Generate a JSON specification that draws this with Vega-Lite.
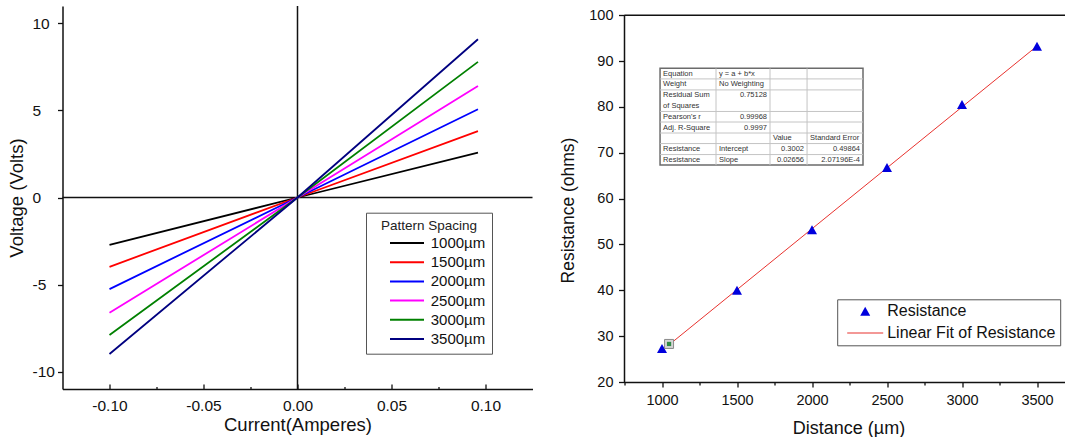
{
  "$schema": "https://vega.github.io/schema/vega-lite/v6.json",
  "background": "#ffffff",
  "padding": {"left": 6.5, "top": 5, "right": 0, "bottom": 0},
  "spacing": 26,
  "resolve": {"scale": {"color": "independent", "shape": "independent"}, "legend": {"color": "independent", "shape": "independent"}},
  "config": {
    "font": "Liberation Sans",
    "view": {"stroke": null},
    "axis": {
      "grid": false,
      "labelFont": "Liberation Sans",
      "titleFont": "Liberation Sans",
      "titleFontWeight": "normal",
      "labelColor": "#111111",
      "titleColor": "#111111",
      "domainColor": "#111111",
      "tickColor": "#111111",
      "domainWidth": 1.5,
      "tickWidth": 1.3,
      "labelOverlap": false,
      "labelBound": false,
      "labelFlush": false
    },
    "legend": {"labelFont": "Liberation Sans", "titleFont": "Liberation Sans", "labelLimit": 400}
  },
  "datasets": {
    "one": [{}],
    "iv": [
      {"spacing": "1000µm", "current": -0.1, "voltage": -2.72},
      {"spacing": "1000µm", "current": 0, "voltage": 0},
      {"spacing": "1000µm", "current": 0.096, "voltage": 2.58},
      {"spacing": "1500µm", "current": -0.1, "voltage": -3.98},
      {"spacing": "1500µm", "current": 0, "voltage": 0},
      {"spacing": "1500µm", "current": 0.096, "voltage": 3.81},
      {"spacing": "2000µm", "current": -0.1, "voltage": -5.26},
      {"spacing": "2000µm", "current": 0, "voltage": 0},
      {"spacing": "2000µm", "current": 0.096, "voltage": 5.07},
      {"spacing": "2500µm", "current": -0.1, "voltage": -6.62},
      {"spacing": "2500µm", "current": 0, "voltage": 0},
      {"spacing": "2500µm", "current": 0.096, "voltage": 6.41},
      {"spacing": "3000µm", "current": -0.1, "voltage": -7.9},
      {"spacing": "3000µm", "current": 0, "voltage": 0},
      {"spacing": "3000µm", "current": 0.096, "voltage": 7.79},
      {"spacing": "3500µm", "current": -0.1, "voltage": -8.99},
      {"spacing": "3500µm", "current": 0, "voltage": 0},
      {"spacing": "3500µm", "current": 0.096, "voltage": 9.09}
    ],
    "resistance": [
      {"distance": 1000, "resistance": 27.3, "series": "Resistance"},
      {"distance": 1500, "resistance": 40.0, "series": "Resistance"},
      {"distance": 2000, "resistance": 53.2, "series": "Resistance"},
      {"distance": 2500, "resistance": 66.8, "series": "Resistance"},
      {"distance": 3000, "resistance": 80.5, "series": "Resistance"},
      {"distance": 3500, "resistance": 93.2, "series": "Resistance"}
    ],
    "fit": [
      {"distance": 1000, "fit": 26.86},
      {"distance": 3500, "fit": 93.26}
    ],
    "lockIcon": [{"distance": 1047, "resistance": 28.3}],
    "tableRows": [
      {"y": 86.1}, {"y": 83.7}, {"y": 79.0}, {"y": 76.7}, {"y": 74.3}, {"y": 72.0}, {"y": 69.6}
    ],
    "tableCols": [
      {"x": 1360}, {"x": 1720}, {"x": 1967}
    ],
    "tableTextLeft": [
      {"x": 1007, "y": 87.25, "label": "Equation"},
      {"x": 1380, "y": 87.25, "label": "y = a + b*x"},
      {"x": 1007, "y": 84.9, "label": "Weight"},
      {"x": 1380, "y": 84.9, "label": "No Weighting"},
      {"x": 1007, "y": 82.5, "label": "Residual Sum"},
      {"x": 1007, "y": 80.3, "label": "of Squares"},
      {"x": 1007, "y": 77.85, "label": "Pearson's r"},
      {"x": 1007, "y": 75.5, "label": "Adj. R-Square"},
      {"x": 1740, "y": 73.15, "label": "Value"},
      {"x": 1987, "y": 73.15, "label": "Standard Error"},
      {"x": 1007, "y": 70.8, "label": "Resistance"},
      {"x": 1380, "y": 70.8, "label": "Intercept"},
      {"x": 1007, "y": 68.45, "label": "Resistance"},
      {"x": 1380, "y": 68.45, "label": "Slope"}
    ],
    "tableTextRight": [
      {"x": 1700, "y": 82.5, "label": "0.75128"},
      {"x": 1700, "y": 77.85, "label": "0.99968"},
      {"x": 1700, "y": 75.5, "label": "0.9997"},
      {"x": 1947, "y": 70.8, "label": "0.3002"},
      {"x": 2320, "y": 70.8, "label": "0.49864"},
      {"x": 1947, "y": 68.45, "label": "0.02656"},
      {"x": 2320, "y": 68.45, "label": "2.07196E-4"}
    ]
  },
  "hconcat": [
    {
      "width": 470,
      "height": 383,
      "layer": [
        {
          "data": {"name": "one"},
          "mark": {"type": "rule", "color": "#111111", "strokeWidth": 1.5},
          "encoding": {
            "y": {"datum": 0, "type": "quantitative", "scale": {"domain": [-11, 11], "nice": false, "zero": false}}
          }
        },
        {
          "data": {"name": "one"},
          "mark": {"type": "rule", "color": "#111111", "strokeWidth": 1.5},
          "encoding": {
            "x": {"datum": 0, "type": "quantitative", "scale": {"domain": [-0.125, 0.125], "nice": false, "zero": false}}
          }
        },
        {
          "data": {"name": "iv"},
          "mark": {"type": "line", "strokeWidth": 1.8},
          "encoding": {
            "x": {
              "field": "current",
              "type": "quantitative",
              "scale": {"domain": [-0.125, 0.125], "nice": false, "zero": false},
              "axis": {
                "title": "Current(Amperes)",
                "values": [-0.1, -0.075, -0.05, -0.025, 0, 0.025, 0.05, 0.075, 0.1],
                "labelExpr": "indexof([-0.1, -0.05, 0, 0.05, 0.1], datum.value) >= 0 ? replace(format(datum.value, '.2f'), '\u2212', '-') : ''",
                "tickSize": {"condition": {"test": "indexof([-0.1, -0.05, 0, 0.05, 0.1], datum.value) >= 0", "value": -5}, "value": -2.5},
                "labelFontSize": 15.5,
                "labelPadding": 14.2,
                "titleFontSize": 18.5,
                "titlePadding": -1
              }
            },
            "y": {
              "field": "voltage",
              "type": "quantitative",
              "scale": {"domain": [-11, 11], "nice": false, "zero": false},
              "axis": {
                "title": "Voltage (Volts)",
                "values": [-10, -5, 0, 5, 10],
                "labelExpr": "replace(format(datum.value, 'd'), '\u2212', '-')",
                "labelAlign": "left",
                "tickSize": 5,
                "labelPadding": 25.5,
                "labelFontSize": 15.5,
                "titleFontSize": 18.5,
                "titlePadding": 6
              }
            },
            "color": {
              "field": "spacing",
              "type": "nominal",
              "scale": {
                "domain": ["1000µm", "1500µm", "2000µm", "2500µm", "3000µm", "3500µm"],
                "range": ["#000000", "#ff0000", "#0000ff", "#ff00ff", "#008000", "#000080"]
              },
              "legend": {
                "title": "Pattern Spacing",
                "orient": "none",
                "legendX": 303.5,
                "legendY": 206.7,
                "strokeColor": "#555555",
                "fillColor": "#ffffff",
                "padding": 6,
                "symbolType": "M-3.4,0H3.4",
                "symbolSize": 100,
                "symbolStrokeWidth": 2,
                "symbolOffset": 27.5,
                "labelOffset": 16.2,
                "labelFontSize": 15,
                "labelColor": "#111111",
                "titleFontSize": 13.5,
                "titleFontWeight": "normal",
                "titleColor": "#222222",
                "titleAnchor": "middle",
                "titlePadding": 3.3,
                "rowPadding": 3.2
              }
            }
          }
        }
      ]
    },
    {
      "width": 441,
      "height": 376,
      "layer": [
        {
          "data": {"name": "one"},
          "mark": {"type": "rule", "color": "#111111", "strokeWidth": 1.5},
          "encoding": {
            "y": {"datum": 100, "type": "quantitative", "scale": {"domain": [20, 102], "nice": false, "zero": false}}
          }
        },
        {
          "data": {"name": "one"},
          "mark": {"type": "rule", "color": "#111111", "strokeWidth": 1.5},
          "encoding": {
            "x": {"datum": 750, "type": "quantitative", "scale": {"domain": [750, 3690], "nice": false, "zero": false}},
            "y": {"datum": 20, "type": "quantitative", "scale": {"domain": [20, 102], "nice": false, "zero": false}},
            "y2": {"datum": 100}
          }
        },
        {
          "data": {"name": "one"},
          "mark": {"type": "rect", "fill": "#ffffff", "stroke": "#6b6b6b", "strokeWidth": 1.5},
          "encoding": {
            "x": {"datum": 987, "type": "quantitative", "scale": {"domain": [750, 3690], "nice": false, "zero": false}},
            "x2": {"datum": 2340},
            "y": {"datum": 67.3, "type": "quantitative", "scale": {"domain": [20, 102], "nice": false, "zero": false}},
            "y2": {"datum": 88.4}
          }
        },
        {
          "data": {"name": "tableRows"},
          "mark": {"type": "rule", "color": "#c4c4c4", "strokeWidth": 1},
          "encoding": {
            "y": {"field": "y", "type": "quantitative", "scale": {"domain": [20, 102], "nice": false, "zero": false}},
            "x": {"datum": 987, "type": "quantitative", "scale": {"domain": [750, 3690], "nice": false, "zero": false}},
            "x2": {"datum": 2340}
          }
        },
        {
          "data": {"name": "tableCols"},
          "mark": {"type": "rule", "color": "#c4c4c4", "strokeWidth": 1},
          "encoding": {
            "x": {"field": "x", "type": "quantitative", "scale": {"domain": [750, 3690], "nice": false, "zero": false}},
            "y": {"datum": 67.3, "type": "quantitative", "scale": {"domain": [20, 102], "nice": false, "zero": false}},
            "y2": {"datum": 88.4}
          }
        },
        {
          "data": {"name": "tableTextLeft"},
          "mark": {"type": "text", "align": "left", "baseline": "middle", "fontSize": 7.5, "color": "#333333", "font": "Liberation Sans"},
          "encoding": {
            "x": {"field": "x", "type": "quantitative", "scale": {"domain": [750, 3690], "nice": false, "zero": false}},
            "y": {"field": "y", "type": "quantitative", "scale": {"domain": [20, 102], "nice": false, "zero": false}},
            "text": {"field": "label"}
          }
        },
        {
          "data": {"name": "tableTextRight"},
          "mark": {"type": "text", "align": "right", "baseline": "middle", "fontSize": 7.5, "color": "#333333", "font": "Liberation Sans"},
          "encoding": {
            "x": {"field": "x", "type": "quantitative", "scale": {"domain": [750, 3690], "nice": false, "zero": false}},
            "y": {"field": "y", "type": "quantitative", "scale": {"domain": [20, 102], "nice": false, "zero": false}},
            "text": {"field": "label"}
          }
        },
        {
          "data": {"name": "fit"},
          "mark": {"type": "line", "color": "#e8322e", "strokeWidth": 1},
          "encoding": {
            "x": {"field": "distance", "type": "quantitative", "scale": {"domain": [750, 3690], "nice": false, "zero": false}},
            "y": {"field": "fit", "type": "quantitative", "scale": {"domain": [20, 102], "nice": false, "zero": false}}
          }
        },
        {
          "data": {"name": "resistance"},
          "mark": {"type": "point", "filled": true, "size": 100, "opacity": 1},
          "encoding": {
            "x": {
              "field": "distance",
              "type": "quantitative",
              "scale": {"domain": [750, 3690], "nice": false, "zero": false},
              "axis": {
                "title": "Distance (µm)",
                "values": [750, 1000, 1250, 1500, 1750, 2000, 2250, 2500, 2750, 3000, 3250, 3500],
                "labelExpr": "datum.value % 500 === 0 ? format(datum.value, 'd') : ''",
                "tickSize": {"condition": {"test": "datum.value % 500 === 0", "value": 5}, "value": 3},
                "labelPadding": 6,
                "labelFontSize": 14.5,
                "titleFontSize": 18,
                "titlePadding": 12.5,
                "titleX": 224
              }
            },
            "y": {
              "field": "resistance",
              "type": "quantitative",
              "scale": {"domain": [20, 102], "nice": false, "zero": false},
              "axis": {
                "title": "Resistance (ohms)",
                "domain": false,
                "values": [20, 25, 30, 35, 40, 45, 50, 55, 60, 65, 70, 75, 80, 85, 90, 95, 100],
                "labelExpr": "datum.value % 10 === 0 ? datum.label : ''",
                "tickSize": {"condition": {"test": "datum.value % 10 === 0", "value": 6}, "value": 3},
                "labelPadding": 5.5,
                "labelFontSize": 14.5,
                "titleFontSize": 17.5,
                "titlePadding": 11,
                "titleY": 204
              }
            },
            "color": {
              "field": "series",
              "type": "nominal",
              "scale": {"domain": ["Resistance", "Linear Fit of Resistance"], "range": ["#0000dd", "#e8322e"]},
              "legend": {
                "title": null,
                "orient": "none",
                "legendX": 212.7,
                "legendY": 293.3,
                "strokeColor": "#555555",
                "fillColor": "#ffffff",
                "padding": 4,
                "symbolOffset": 16,
                "symbolSize": 100,
                "symbolStrokeWidth": 0,
                "symbolOpacity": 1,
                "labelOffset": 14,
                "labelFontSize": 16,
                "labelColor": "#111111",
                "rowPadding": 5.7
              }
            },
            "shape": {
              "field": "series",
              "type": "nominal",
              "scale": {
                "domain": ["Resistance", "Linear Fit of Resistance"],
                "range": ["M0,-0.9L1,0.9L-1,0.9Z", "M-3.6,-0.12H3.6V0.12H-3.6Z"]
              },
              "legend": {
                "title": null,
                "orient": "none",
                "legendX": 212.7,
                "legendY": 293.3,
                "strokeColor": "#555555",
                "fillColor": "#ffffff",
                "padding": 4,
                "symbolOffset": 16,
                "symbolSize": 100,
                "symbolStrokeWidth": 0,
                "symbolOpacity": 1,
                "labelOffset": 14,
                "labelFontSize": 16,
                "labelColor": "#111111",
                "rowPadding": 5.7
              }
            }
          }
        },
        {
          "data": {"name": "lockIcon"},
          "mark": {"type": "point", "shape": "square", "filled": true, "size": 81, "fill": "#d6d6d6", "stroke": "#8a8a8a", "strokeWidth": 1, "opacity": 1},
          "encoding": {
            "x": {"field": "distance", "type": "quantitative", "scale": {"domain": [750, 3690], "nice": false, "zero": false}},
            "y": {"field": "resistance", "type": "quantitative", "scale": {"domain": [20, 102], "nice": false, "zero": false}}
          }
        },
        {
          "data": {"name": "lockIcon"},
          "mark": {"type": "point", "shape": "square", "filled": true, "size": 18, "fill": "#2f8a45", "opacity": 1},
          "encoding": {
            "x": {"field": "distance", "type": "quantitative", "scale": {"domain": [750, 3690], "nice": false, "zero": false}},
            "y": {"field": "resistance", "type": "quantitative", "scale": {"domain": [20, 102], "nice": false, "zero": false}}
          }
        }
      ]
    }
  ]
}
